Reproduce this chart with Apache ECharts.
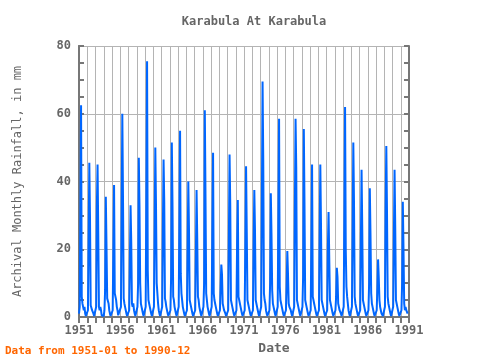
<!DOCTYPE html>
<html><head><meta charset="utf-8">
<script src="https://cdn.jsdelivr.net/npm/echarts@6/dist/echarts.min.js"></script>
<style>html,body{margin:0;padding:0;background:#fff}#c{width:480px;height:360px}</style>
</head><body><div id="c"></div>
<script>
var startYear = 1951;
var xTicks = [1951, 1956, 1961, 1966, 1971, 1976, 1981, 1986, 1991];
var yTicks = [0, 20, 40, 60, 80];
// monthly rainfall (mm), Jan..Dec per year
var rain1951to1960 = [
  1,3,32,62.5,6,4,3,2,3,1,0.3,0.5,
  0.5,2,23,45.5,29.5,3.5,3,2,2.5,1,0.3,0.5,
  0.3,3,33,45,25,3,2,3,2,0.5,0.3,0.5,
  0.3,2,8,35.5,21,5.5,5,4,2,1,0.3,0.5,
  0.5,2,20.5,39,7,7,5,3,2,0.5,0.3,0.5,
  0.5,3,30.5,60,35,5.5,4,3,2,1,0.3,0.5,
  0.5,2,16.5,33,22,4,3,4,2,1,0.3,0.5,
  0.5,3,10,47,32.5,10,4,3,2,1,0.3,0.5,
  0.5,3,38,75.5,14,5,4,3,2,1,0.3,0.5,
  0.5,3,25.5,50,33,10,7,4,2,1,0.3,0.5
];
var rain1961to1970 = [
  0.5,3,26.5,46.5,34,5.5,4.5,3,2,1,0.3,0.5,
  0.5,2,12,51.5,33,6,5,3,2,1,0.3,0.5,
  0.5,3,27.7,55,12.8,7,5,3,2,1,0.3,0.5,
  0.5,2,20,40,25.5,5,4,3,2,1,0.3,0.5,
  0.5,2,18.5,37.5,23,6,5,3,2,1,0.3,0.5,
  0.5,3,10,61,35.5,7,5,3,2,1,0.3,0.5,
  0.5,3,28,48.5,7,5,4,3,2,1,0.3,0.5,
  0.5,2,8.7,15.5,12.5,4,3,2,1.5,1,0.3,0.5,
  0.5,2,23.5,48,33.3,5,4,3,2,1,0.3,0.5,
  0.5,2,22.4,34.5,6,5,4,3,2,1,0.3,0.5
];
var rain1971to1980 = [
  0.5,2,22.3,44.5,25.4,5,4,3,2,1,0.3,0.5,
  0.5,2,21.7,37.5,25.3,5,4,3,2,1,0.3,0.5,
  0.5,3,34.8,69.5,46.4,7,5,4,2,1,0.3,0.5,
  0.5,2,10,36.5,24.2,7.9,4,3,2,1,0.3,0.5,
  0.5,3,29.8,58.5,9,5,4,3,2,1,0.3,0.5,
  0.5,2,9,19.5,12.6,4,3,3,2,1,0.3,0.5,
  0.5,3,32.6,58.5,44,5,4,3,2,1,0.3,0.5,
  0.5,3,12,55.5,33.2,5,4,3,2,1,0.3,0.5,
  0.5,2,22.4,45,6,5,4,3,2,1,0.3,0.5,
  0.5,2,22.4,45,27.2,5,4,3,2,1,0.3,0.5
];
var rain1981to1990 = [
  0.5,2,20.6,31,17.4,5,4,3,2,1,0.3,0.5,
  0.5,2,6,14.5,11.8,4,3,2,2,1,0.3,0.5,
  0.5,3,31,62,20,9,6,4,2,1,0.3,0.5,
  0.5,3,25.7,51.5,33.8,6,4,3,2,1,0.3,0.5,
  0.5,2,22.4,43.5,26.2,5,4,3,2,1,0.3,0.5,
  0.5,2,10,38,24.2,7,4,3,2,1,0.3,0.5,
  0.5,2,8.4,17,11.7,5,3,2,1,1,0.3,0.5,
  0.5,3,32.6,50.5,31.1,6,4,3,2,1,0.3,0.5,
  0.5,3,23.9,43.5,26.2,5,4,3,2,1,0.3,0.5,
  0.5,2,10,34,20,4,2,3,2,2,1,1
];
var allRain = rain1951to1960.concat(rain1961to1970, rain1971to1980, rain1981to1990);
var seriesData = allRain.map(function(v, i){ return [startYear + i/12, v]; });

var gray = '#777777';
var txt = '#666666';
var font = 'DejaVu Sans Mono';
var chart = echarts.init(document.getElementById('c'), null, {renderer:'canvas'});
function minorY(pos){
  return {
    type:'value', position:pos, min:0, max:80, interval:5,
    axisLine:{show:true, lineStyle:{color:gray, width:2}},
    axisTick:{show:true, inside:true, length:5, lineStyle:{color:gray, width:2}},
    axisLabel:{show:false},
    splitLine:{show:false}
  };
}
chart.setOption({
  animation:false,
  backgroundColor:'#ffffff',
  title:{text:'Karabula At Karabula', left:249, top:11, textAlign:'center',
    textStyle:{fontFamily:font, fontSize:12, fontWeight:'bold', color:txt}},
  graphic:[{type:'text', left:5, top:346,
    style:{text:'Data from 1951-01 to 1990-12', fill:'#ff6600', fontFamily:font, fontSize:11, fontWeight:'bold'}}],
  grid:{left:79, right:71, top:46, bottom:43},
  xAxis:[{
    type:'value', min:xTicks[0], max:xTicks[xTicks.length-1], interval:5,
    name:'Date', nameLocation:'middle', nameGap:23,
    nameTextStyle:{fontFamily:font, fontSize:13, fontWeight:'bold', color:txt, padding:[0,0,0,60]},
    axisLine:{lineStyle:{color:gray, width:2}},
    axisTick:{show:false},
    axisLabel:{fontFamily:font, fontSize:12, color:txt, fontWeight:'bold', margin:8,
      formatter:function(v){ return String(v); }},
    splitLine:{show:false}
  },{
    type:'value', position:'top', min:1951, max:1991, interval:1,
    axisLine:{show:true, lineStyle:{color:gray, width:2}},
    axisTick:{show:true, inside:true, length:6, lineStyle:{color:gray, width:2}},
    axisLabel:{show:false},
    splitLine:{show:true, lineStyle:{color:'#b4b4b4', width:1}}
  }],
  yAxis:[{
    type:'value', min:yTicks[0], max:yTicks[yTicks.length-1], interval:20,
    name:'Archival Monthly Rainfall, in mm', nameLocation:'middle', nameGap:55, nameRotate:90,
    nameTextStyle:{fontFamily:font, fontSize:12, color:txt},
    axisLine:{show:true, lineStyle:{color:gray, width:2}},
    axisTick:{show:false},
    axisLabel:{fontFamily:font, fontSize:12, color:txt, fontWeight:'bold', margin:8},
    splitLine:{show:true, lineStyle:{color:'#b4b4b4', width:1}}
  }, minorY('right'), minorY('left')],
  series:[{
    type:'line', xAxisIndex:0, yAxisIndex:0, data:seriesData, showSymbol:false,
    lineStyle:{color:'#0066ff', width:2}, itemStyle:{color:'#0066ff'}
  }]
});
</script></body></html>
